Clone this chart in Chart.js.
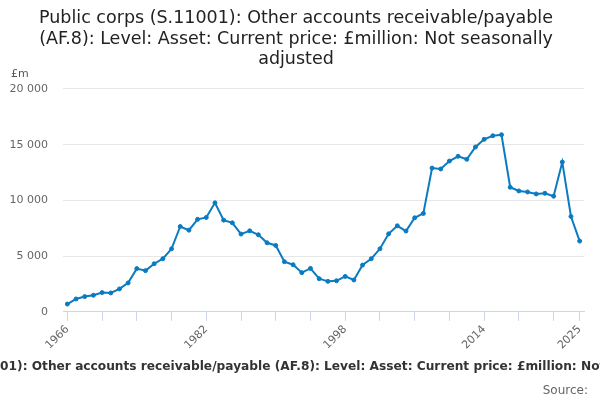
<!DOCTYPE html>
<html>
<head>
<meta charset="utf-8">
<script src="https://cdn.jsdelivr.net/npm/chart.js@4"></script>
<style>
  body { margin: 0; background: #fff; }
  #wrap { width: 600px; height: 400px; position: relative; }
</style>
</head>
<body>
<div id="wrap"><canvas id="chart"></canvas></div>
<script>
// data
const years = [
  '1966', '1967', '1968', '1969', '1970', '1971', '1972', '1973', '1974', '1975',
  '1976', '1977', '1978', '1979', '1980', '1981', '1982', '1983', '1984', '1985',
  '1986', '1987', '1988', '1989', '1990', '1991', '1992', '1993', '1994', '1995',
  '1996', '1997', '1998', '1999', '2000', '2001', '2002', '2003', '2004', '2005',
  '2006', '2007', '2008', '2009', '2010', '2011', '2012', '2013', '2014', '2015',
  '2016', '2017', '2018', '2019', '2020', '2021', '2022', '2023', '2024', '2025'
];
const assets = [
  700, 1160, 1370, 1490, 1730, 1700, 2060, 2600, 3880, 3700,
  4320, 4770, 5660, 7660, 7330, 8300, 8470, 9780, 8230, 7990,
  6980, 7270, 6920, 6200, 5960, 4500, 4230, 3520, 3900, 2980,
  2740, 2790, 3180, 2860, 4200, 4770, 5660, 7000, 7720, 7250,
  8440, 8830, 12900, 12820, 13530, 13960, 13690, 14790, 15480, 15800,
  15890, 11180, 10850, 10760, 10580, 10640, 10380, 13440, 8560, 6350
];
const labelYears = ['1966', '1982', '1998', '2014', '2025'];
const yTicks = [0, 5000, 10000, 15000, 20000];

const seriesName = 'Public corps (S.11001): Other accounts receivable/payable (AF.8): Level: Asset: Current price: £million: Not seasonally adjusted';
const FONT = "'DejaVu Sans', sans-serif";

const fmt = v => String(v).replace(/\B(?=(\d{3})+(?!\d))/g, ' ');

// extra labels: unit, bottom series name, source
const extras = {
  id: 'extras',
  afterDraw(chart) {
    const c = chart.ctx;
    c.save();
    c.fillStyle = '#555';
    c.font = "11px " + FONT;
    c.textAlign = 'left';
    c.textBaseline = 'middle';
    c.fillText('£m', 11, 74);

    c.fillStyle = '#333';
    c.font = "bold 12.2px " + FONT;
    c.textAlign = 'center';
    c.fillText(seriesName, 307, 367);

    c.fillStyle = '#666';
    c.font = "12px " + FONT;
    c.textAlign = 'right';
    c.fillText('Source:', 588, 391);
    c.restore();
  }
};

new Chart(document.getElementById('chart'), {
  type: 'line',
  data: {
    labels: years,
    datasets: [{
      label: seriesName,
      data: assets,
      borderColor: '#0b7bc1',
      backgroundColor: '#0b7bc1',
      borderWidth: 2,
      pointRadius: 2,
      pointBorderWidth: 1,
      pointHoverRadius: 3,
      tension: 0
    }]
  },
  options: {
    responsive: true,
    maintainAspectRatio: false,
    animation: false,
    layout: { padding: { left: 8, right: 16, bottom: 46, top: 0 } },
    plugins: {
      legend: { display: false },
      tooltip: { enabled: false },
      title: {
        display: true,
        text: [
          'Public corps (S.11001): Other accounts receivable/payable',
          '(AF.8): Level: Asset: Current price: £million: Not seasonally',
          'adjusted'
        ],
        color: '#222',
        font: { family: FONT, size: 17.5, weight: 'normal', lineHeight: 1.18 },
        padding: { top: 8, bottom: 19 }
      }
    },
    scales: {
      x: {
        offset: true,
        border: { display: true, color: '#ccd6eb', width: 1 },
        grid: {
          display: true,
          drawOnChartArea: false,
          drawTicks: true,
          tickLength: 9,
          color: '#ccd6eb'
        },
        afterFit(scale) {
          scale.paddingLeft = 0;
          scale.paddingRight = 0;
        },
        ticks: {
          autoSkip: false,
          maxRotation: 45,
          minRotation: 45,
          padding: 2,
          color: '#666',
          font: { family: FONT, size: 11 },
          callback(value, index) {
            const y = years[index];
            if (labelYears.includes(y)) return y;
            if (index % 4 === 0) return '';
            return null;
          }
        }
      },
      y: {
        min: 0,
        max: 20000,
        border: { display: false },
        grid: { color: '#e6e6e6', drawTicks: false },
        afterBuildTicks(scale) {
          scale.ticks = yTicks.map(v => ({ value: v }));
        },
        afterFit(scale) {
          // fixed axis width so the plot starts where the reference does
          scale.width = 55;
        },
        ticks: {
          padding: 15,
          color: '#666',
          font: { family: FONT, size: 11 },
          callback: v => fmt(v)
        }
      }
    }
  },
  plugins: [extras]
});
</script>
</body>
</html>
